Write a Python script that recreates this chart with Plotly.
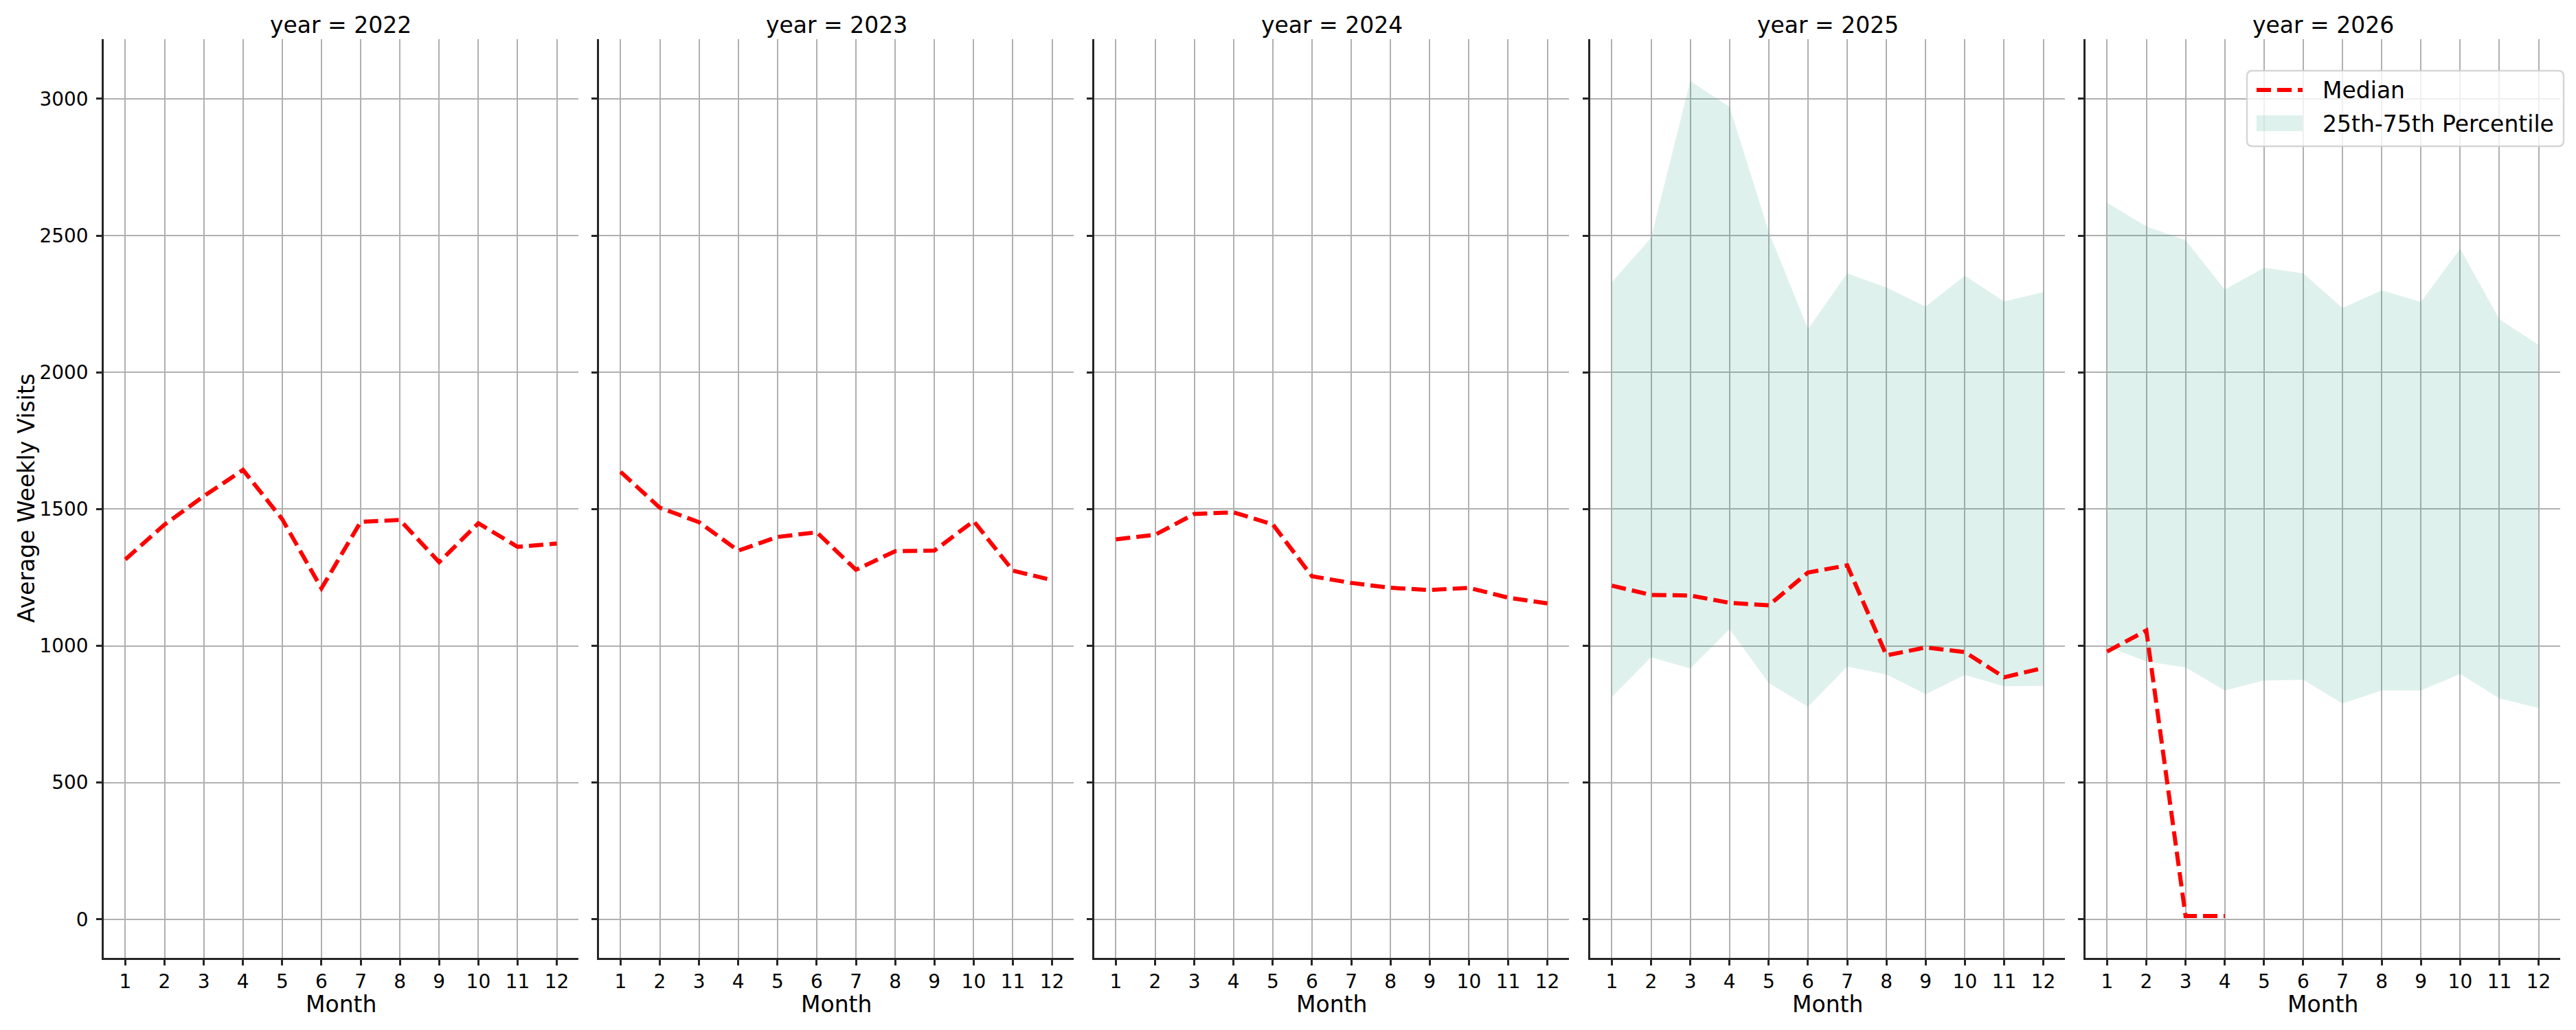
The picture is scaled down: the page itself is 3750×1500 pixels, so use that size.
import plotly.graph_objects as go

# ---------------- data ----------------
years = [2022, 2023, 2024, 2025, 2026]
months = [1, 2, 3, 4, 5, 6, 7, 8, 9, 10, 11, 12]

median_2022 = [1316, 1443, 1547, 1643, 1463, 1210, 1453, 1460, 1306, 1448, 1362, 1374]
median_2023 = [1636, 1505, 1452, 1348, 1398, 1415, 1278, 1346, 1348, 1456, 1275, 1240]
median_2024 = [1389, 1406, 1482, 1488, 1444, 1254, 1230, 1212, 1204, 1212, 1176, 1155]
median_2025 = [1220, 1186, 1184, 1157, 1148, 1268, 1294, 965, 994, 977, 885, 919]
median_2026 = [979, 1056, 12, 12]

p25_2025 = [813, 958, 917, 1061, 864, 777, 924, 895, 823, 893, 852, 854]
p75_2025 = [2329, 2492, 3065, 2971, 2514, 2158, 2362, 2310, 2240, 2353, 2259, 2293]
p25_2026 = [998, 943, 921, 837, 873, 876, 789, 837, 837, 897, 808, 772]
p75_2026 = [2620, 2533, 2483, 2302, 2382, 2362, 2235, 2300, 2257, 2452, 2194, 2100]

medians = {2022: median_2022, 2023: median_2023, 2024: median_2024,
           2025: median_2025, 2026: median_2026}
p25 = {2025: p25_2025, 2026: p25_2026}
p75 = {2025: p75_2025, 2026: p75_2026}

y_ticks = [0, 500, 1000, 1500, 2000, 2500, 3000]
legend_labels = ["Median", "25th-75th Percentile"]

# ---------------- style ----------------
W, H = 3750, 1500
FONT = "DejaVu Sans"
SPINE = "#262626"
GRID = "#b0b0b0"
RED = "#ff0000"
FILL = "rgba(42,162,128,0.15)"
DASH = "21px,9px"
panel_lefts = [151, 872, 1593, 2315, 3036]
panel_w = 691
y_top, y_bot = 57, 1395

fig = go.Figure()

for i, yr in enumerate(years):
    ax = "" if i == 0 else str(i + 1)
    xref, yref = "x" + ax, "y" + ax
    if yr in p25:
        fig.add_trace(go.Scatter(x=months, y=p25[yr], mode="lines",
                                 line=dict(width=0, color=FILL),
                                 hoverinfo="skip", showlegend=False,
                                 xaxis=xref, yaxis=yref))
        fig.add_trace(go.Scatter(x=months, y=p75[yr], mode="lines",
                                 line=dict(width=0, color=FILL),
                                 fill="tonexty", fillcolor=FILL,
                                 name=legend_labels[1], showlegend=False,
                                 xaxis=xref, yaxis=yref))
    m = medians[yr]
    fig.add_trace(go.Scatter(x=months[:len(m)], y=m, mode="lines",
                             line=dict(color=RED, width=6, dash=DASH),
                             name=legend_labels[0], showlegend=False,
                             xaxis=xref, yaxis=yref))

    left = panel_lefts[i]
    xdom = [left / W, (left + panel_w) / W]
    xaxis = dict(domain=xdom, range=[0.45, 12.55], tickmode="array",
                 tickvals=months, ticktext=[str(v) for v in months],
                 showgrid=True, gridcolor=GRID, gridwidth=2,
                 zeroline=False, showline=True, linecolor=SPINE, linewidth=2.5,
                 ticks="outside", ticklen=8, tickwidth=2.5, tickcolor=SPINE,
                 tickfont=dict(family=FONT, size=28, color="black"),
                 anchor=yref, automargin=False)
    yaxis = dict(domain=[1 - y_bot / H, 1 - y_top / H], range=[-141, 3218],
                 tickmode="array", tickvals=y_ticks,
                 ticktext=[str(v) for v in y_ticks],
                 showticklabels=(i == 0),
                 showgrid=True, gridcolor=GRID, gridwidth=2,
                 zeroline=False, showline=True, linecolor=SPINE, linewidth=2.5,
                 ticks="outside", ticklen=8, tickwidth=2.5, tickcolor=SPINE,
                 ticklabelstandoff=6,
                 tickfont=dict(family=FONT, size=28, color="black"),
                 anchor=xref, automargin=False)
    if i > 0:
        yaxis["matches"] = "y"
    fig.update_layout(**{"xaxis" + ax: xaxis, "yaxis" + ax: yaxis})

    cx = (left + panel_w / 2) / W
    fig.add_annotation(text=f"year = {yr}", x=cx, y=1 - 36 / H,
                       xref="paper", yref="paper", showarrow=False,
                       xanchor="center", yanchor="middle",
                       font=dict(family=FONT, size=33, color="black"))
    fig.add_annotation(text="Month", x=cx, y=1 - 1462 / H,
                       xref="paper", yref="paper", showarrow=False,
                       xanchor="center", yanchor="middle",
                       font=dict(family=FONT, size=33, color="black"))

fig.add_annotation(text="Average Weekly Visits", x=38 / W, y=1 - 726 / H,
                   xref="paper", yref="paper", showarrow=False, textangle=-90,
                   xanchor="center", yanchor="middle",
                   font=dict(family=FONT, size=33, color="black"))

# ---------------- legend (drawn like matplotlib's framed legend) ----------------
def px(x):
    return x / W


def py(y):
    return 1 - y / H


bx0, bx1, by0, by1, r = 3271, 3732, 103, 213, 8
path = (f"M {px(bx0 + r)},{py(by0)} L {px(bx1 - r)},{py(by0)} "
        f"Q {px(bx1)},{py(by0)} {px(bx1)},{py(by0 + r)} "
        f"L {px(bx1)},{py(by1 - r)} Q {px(bx1)},{py(by1)} {px(bx1 - r)},{py(by1)} "
        f"L {px(bx0 + r)},{py(by1)} Q {px(bx0)},{py(by1)} {px(bx0)},{py(by1 - r)} "
        f"L {px(bx0)},{py(by0 + r)} Q {px(bx0)},{py(by0)} {px(bx0 + r)},{py(by0)} Z")
fig.add_shape(type="path", path=path, xref="paper", yref="paper",
              fillcolor="rgba(255,255,255,0.8)",
              line=dict(color="rgba(204,204,204,0.8)", width=2.5))
fig.add_shape(type="line", xref="paper", yref="paper",
              x0=px(3285), x1=px(3352), y0=py(131), y1=py(131),
              line=dict(color=RED, width=6, dash=DASH))
fig.add_shape(type="rect", xref="paper", yref="paper",
              x0=px(3285), x1=px(3352), y0=py(168), y1=py(191),
              fillcolor=FILL, line=dict(width=0))
for lbl, yc in zip(legend_labels, [131, 180]):
    fig.add_annotation(text=lbl, x=px(3379), y=py(yc), xref="paper", yref="paper",
                       showarrow=False, xanchor="left", yanchor="middle",
                       font=dict(family=FONT, size=33, color="black"))

fig.update_layout(
    width=W, height=H,
    margin=dict(l=0, r=0, t=0, b=0),
    paper_bgcolor="white", plot_bgcolor="white",
    font=dict(family=FONT, color="black"),
    showlegend=False,
)

fig.write_html("out.html",
               config={"displayModeBar": False},
               post_script="document.body.style.margin='0';"
                           "document.body.style.overflow='hidden';")
